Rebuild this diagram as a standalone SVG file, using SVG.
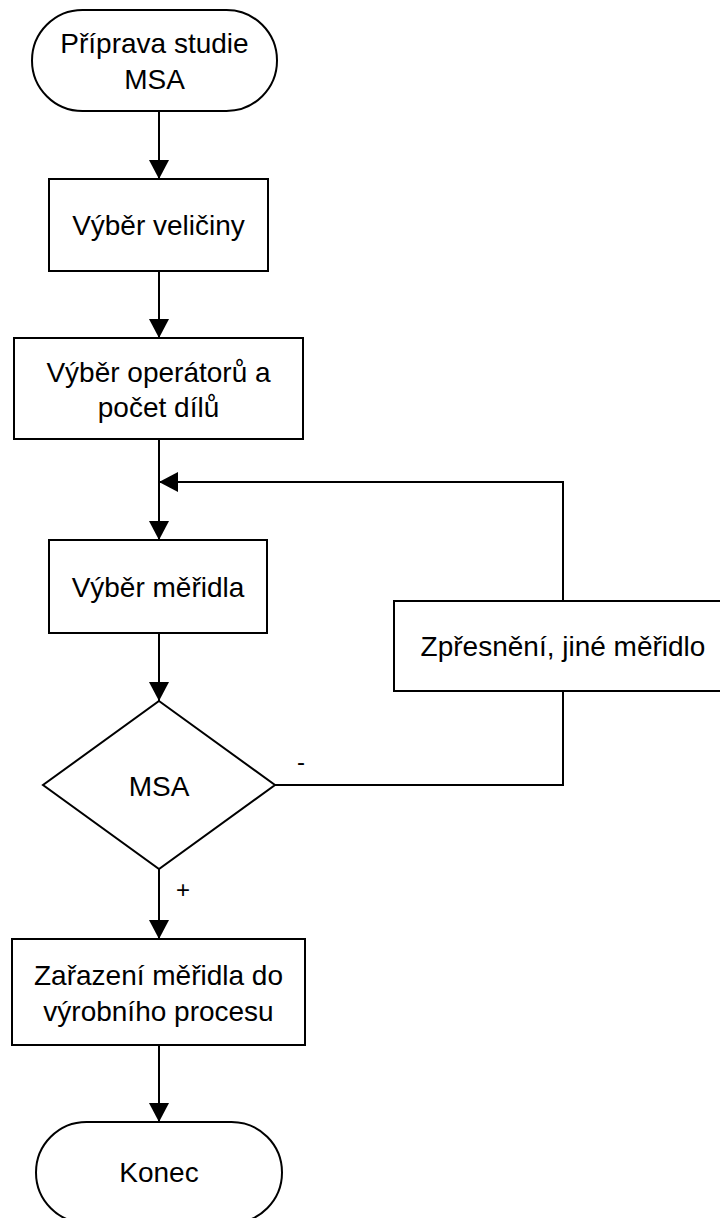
<svg xmlns="http://www.w3.org/2000/svg" width="720" height="1218" viewBox="0 0 720 1218">
<style>
.shape{fill:#fff;stroke:#000;stroke-width:2}
.conn{fill:none;stroke:#000;stroke-width:2}
text{font-family:"Liberation Sans",Arial,sans-serif;font-size:28px;fill:#000;text-anchor:middle}
.lbl{font-size:24px}
</style>
<defs>
<marker id="arr" viewBox="0 0 19 20" refX="19" refY="10" markerWidth="19" markerHeight="20" orient="auto" markerUnits="userSpaceOnUse">
<path d="M0,0 L19,10 L0,20 Z" fill="#000"/>
</marker>
</defs>
<rect width="720" height="1218" fill="#fff"/>
<g id="connectors">
<path class="conn" d="M159,111 V179" marker-end="url(#arr)"/>
<path class="conn" d="M159,271 V338" marker-end="url(#arr)"/>
<path class="conn" d="M159,439 V540" marker-end="url(#arr)"/>
<path class="conn" d="M159,633 V701" marker-end="url(#arr)"/>
<path class="conn" d="M159,869 V939" marker-end="url(#arr)"/>
<path class="conn" d="M159,1045 V1122" marker-end="url(#arr)"/>
<path class="conn" d="M275,785 H563 V691"/>
<path class="conn" d="M563,601 V482 H159" marker-end="url(#arr)"/>
<text class="lbl" x="301" y="770">-</text>
<text class="lbl" x="183" y="898">+</text>
</g>
<g id="start">
<rect class="shape" x="32" y="10" width="245" height="101" rx="50.5" ry="50.5"/>
<text x="154.5" y="53">Příprava studie</text>
<text x="154.5" y="89">MSA</text>
</g>
<g id="vyber-veliciny">
<rect class="shape" x="49" y="179" width="219" height="92"/>
<text x="158.5" y="235">Výběr veličiny</text>
</g>
<g id="vyber-operatoru">
<rect class="shape" x="14" y="338" width="289" height="101"/>
<text x="158.5" y="382">Výběr operátorů a</text>
<text x="158.5" y="417">počet dílů</text>
</g>
<g id="vyber-meridla">
<rect class="shape" x="49" y="540" width="218" height="93"/>
<text x="158" y="597">Výběr měřidla</text>
</g>
<g id="zpresneni">
<rect class="shape" x="394" y="601" width="338" height="90"/>
<text x="563" y="656">Zpřesnění, jiné měřidlo</text>
</g>
<g id="msa">
<path class="shape" d="M159,701 L275,785 L159,869 L43,785 Z"/>
<text x="159" y="796">MSA</text>
</g>
<g id="zarazeni">
<rect class="shape" x="12" y="939" width="293" height="106"/>
<text x="158.5" y="985">Zařazení měřidla do</text>
<text x="158.5" y="1021">výrobního procesu</text>
</g>
<g id="konec">
<rect class="shape" x="36" y="1122" width="246" height="101" rx="50.5" ry="50.5"/>
<text x="159" y="1182">Konec</text>
</g>
</svg>
